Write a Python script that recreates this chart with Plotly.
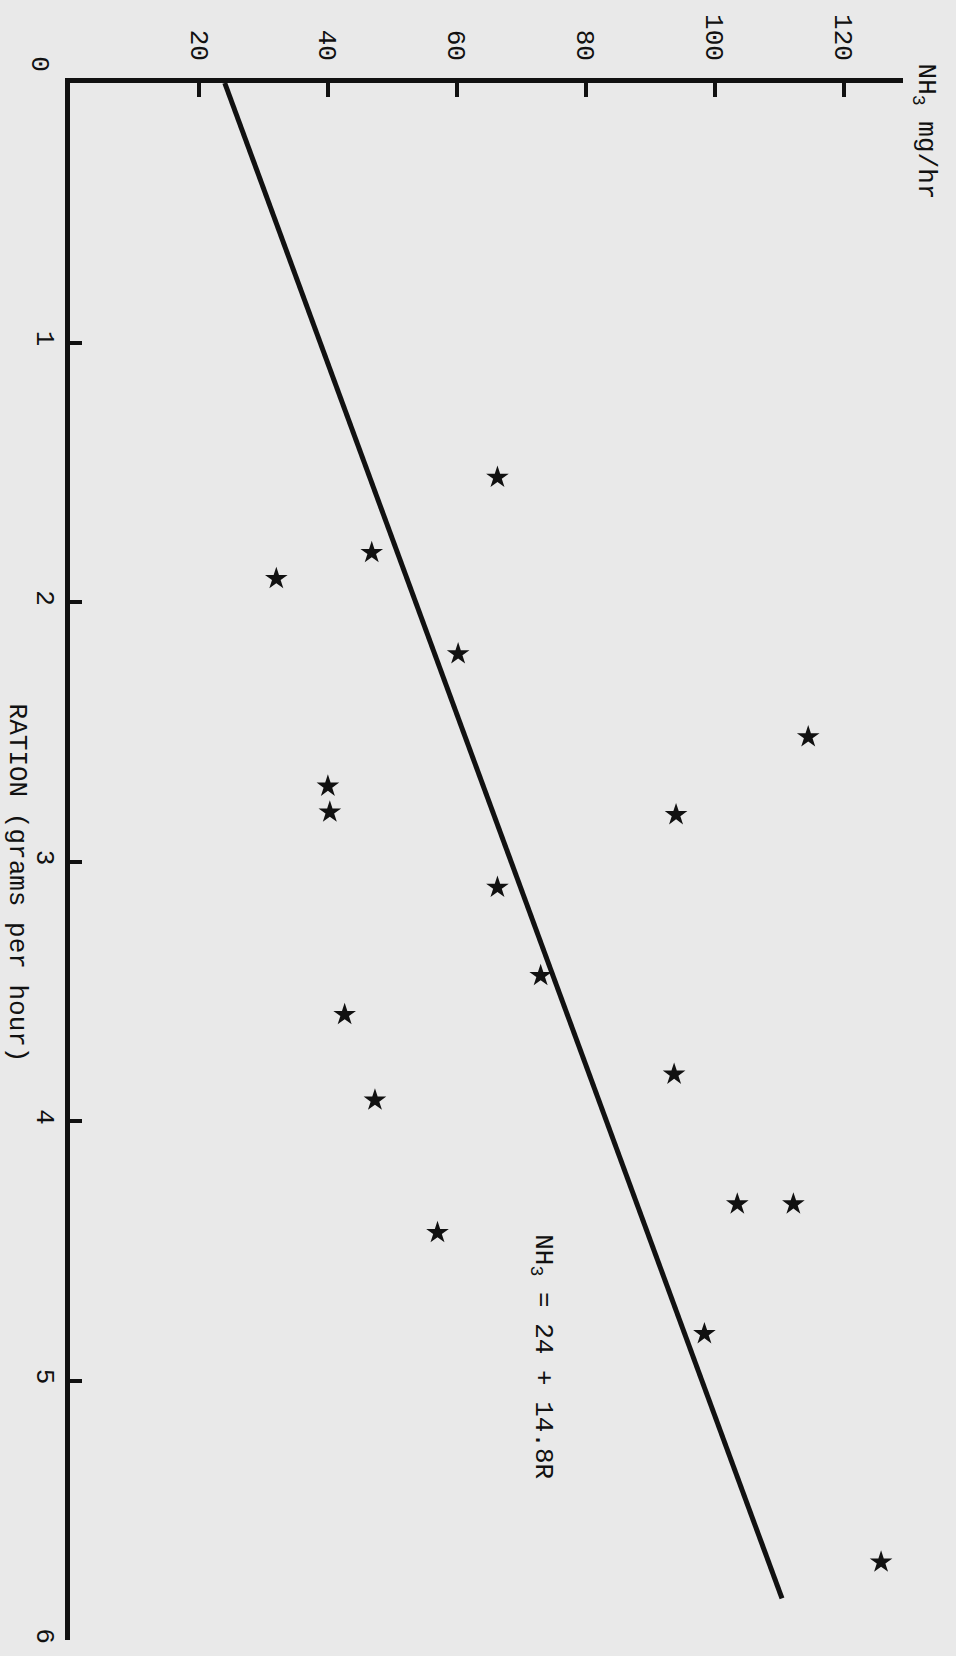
import plotly.graph_objects as go

# Ration fed (grams per hour) and ammonia excretion (NH3 mg/hr) for each observation
ration = [1.52, 1.81, 1.91, 2.20, 2.52, 2.82, 2.71, 2.81, 3.10, 3.44,
          3.59, 3.82, 3.92, 4.32, 4.32, 4.43, 4.82, 5.70]
nh3 = [66.3, 46.8, 32.0, 60.2, 114.5, 94.0, 40.0, 40.3, 66.3, 73.0,
       42.6, 93.7, 47.3, 103.5, 112.2, 57.0, 98.4, 125.8]

# Fitted regression NH3 = 24 + 14.8R
intercept = 24
slope = 14.8
fit_ration = [0, 5.84]
fit_nh3 = [intercept + slope * r for r in fit_ration]

nh3_ticks = [20, 40, 60, 80, 100, 120]
ration_ticks = [1, 2, 3, 4, 5, 6]

bg = "#e9e9e9"
ink = "#111111"
font_family = "Liberation Mono, Courier New, monospace"
fsize = 26

fig = go.Figure()

fig.add_trace(go.Scatter(
    x=fit_nh3, y=fit_ration, mode="lines",
    line=dict(color=ink, width=5), hoverinfo="skip",
))

fig.add_trace(go.Scatter(
    x=nh3, y=ration, mode="markers",
    marker=dict(symbol="star", size=17, color=ink, line=dict(width=0)),
))

fig.update_layout(
    width=956, height=1656,
    margin=dict(l=70, r=53, t=83, b=13),
    paper_bgcolor=bg, plot_bgcolor=bg,
    showlegend=False,
    font=dict(family=font_family, size=fsize, color=ink),
)

fig.update_xaxes(
    side="top", range=[0, 129.2],
    showline=True, linewidth=5, linecolor=ink,
    ticks="inside", ticklen=14, tickwidth=4, tickcolor=ink,
    tickvals=nh3_ticks, ticktext=[str(v) for v in nh3_ticks],
    tickangle=90, ticklabelstandoff=8,
    tickfont=dict(family=font_family, size=fsize, color=ink),
    showgrid=False, zeroline=False,
)

fig.update_yaxes(
    side="left", range=[6, 0],
    showline=True, linewidth=5, linecolor=ink,
    ticks="inside", ticklen=12, tickwidth=4, tickcolor=ink,
    tickvals=ration_ticks, ticktext=[str(v) for v in ration_ticks],
    tickangle=90, ticklabelstandoff=-3,
    tickfont=dict(family=font_family, size=fsize, color=ink),
    showgrid=False, zeroline=False,
)

annotations = [
    dict(text="0", xref="paper", yref="paper", x=-0.037, y=1.012,
         textangle=90, showarrow=False, xanchor="center", yanchor="middle"),
    dict(text="NH<sub>3</sub> mg/hr", xref="paper", yref="paper", x=1.026, y=0.969,
         textangle=90, showarrow=False, xanchor="center", yanchor="middle"),
    dict(text="RATION (grams per hour)", xref="paper", yref="paper", x=-0.064, y=0.486,
         textangle=90, showarrow=False, xanchor="center", yanchor="middle"),
    dict(text="NH<sub>3</sub> = 24 + 14.8R", xref="x", yref="y", x=73.2, y=4.91,
         textangle=90, showarrow=False, xanchor="center", yanchor="middle"),
]
fig.update_layout(annotations=annotations)

fig.write_html("out.html")
